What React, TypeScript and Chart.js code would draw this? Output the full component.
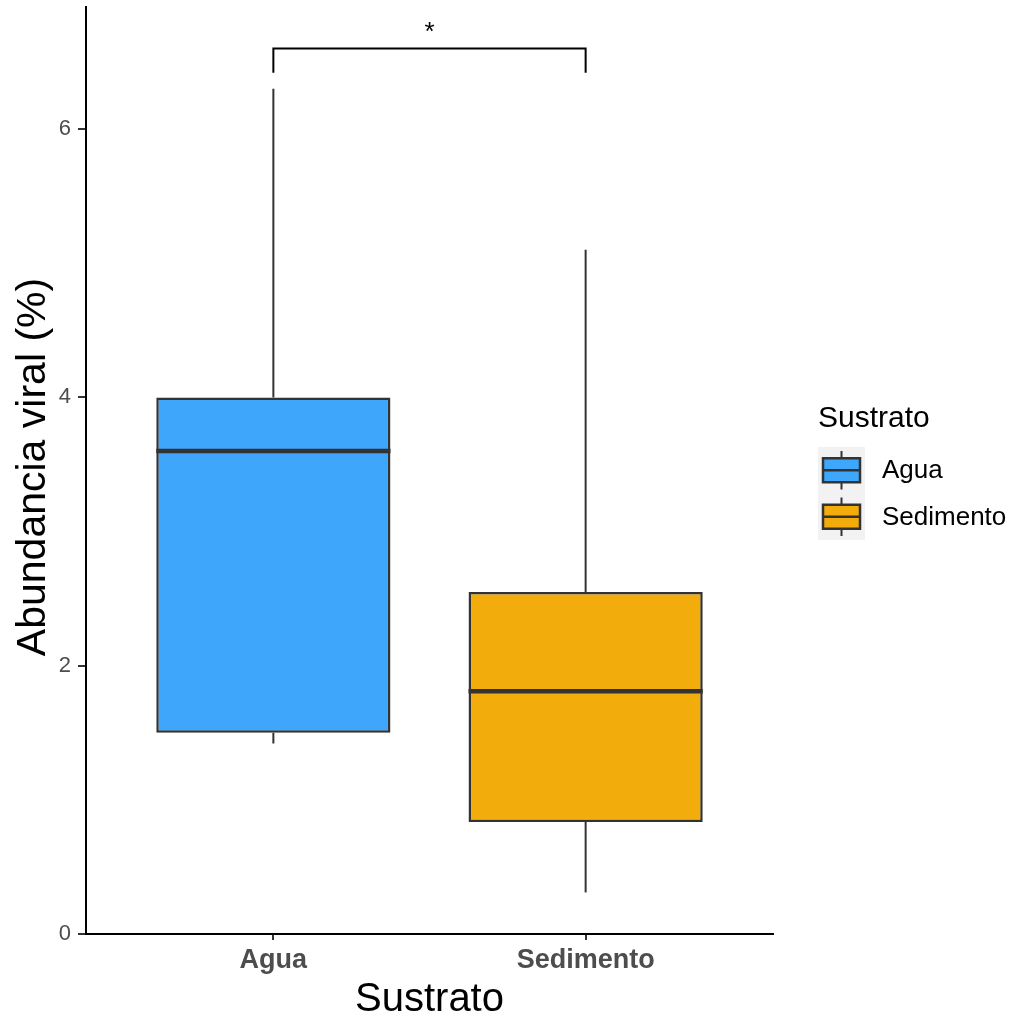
import React, { useEffect, useRef } from "react";
import { Chart, registerables } from "chart.js";

Chart.register(...registerables);

const categories = ["Agua", "Sedimento"];
const positions = [1, 2];
const whiskerLow = [1.42, 0.31];
const q1 = [1.5, 0.835];
const median = [3.6, 1.81];
const q3 = [4.0, 2.55];
const whiskerHigh = [6.3, 5.1];
const fillColors = ["#3EA6FB", "#F2AC0C"];
const yTicks = [0, 2, 4, 6];
const bracketY = 6.6;
const bracketTipY = 6.42;
const bracketLabel = "*";
const yTitle = "Abundancia viral (%)";
const xTitle = "Sustrato";
const legendTitle = "Sustrato";

const FONT = '"Liberation Sans", Arial, Helvetica, sans-serif';

const extras = {
  id: "boxExtras",
  afterDatasetsDraw(chart: any) {
    const { ctx, scales, chartArea } = chart;
    const x = scales.x;
    const y = scales.y;
    const meta = chart.getDatasetMeta(0);
    ctx.save();
    ctx.lineCap = "butt";
    const line = (x1: number, y1: number, x2: number, y2: number) => {
      ctx.beginPath();
      ctx.moveTo(x1, y1);
      ctx.lineTo(x2, y2);
      ctx.stroke();
    };
    meta.data.forEach((bar: any, i: number) => {
      const cx = x.getPixelForValue(positions[i]);
      const w = bar.width;
      ctx.strokeStyle = "#333333";
      ctx.lineWidth = 2;
      line(cx, y.getPixelForValue(q3[i]), cx, y.getPixelForValue(whiskerHigh[i]));
      line(cx, y.getPixelForValue(q1[i]), cx, y.getPixelForValue(whiskerLow[i]));
      ctx.lineWidth = 4.5;
      const ym = y.getPixelForValue(median[i]);
      line(cx - w / 2, ym, cx + w / 2, ym);
    });
    // significance bracket
    const bx1 = x.getPixelForValue(positions[0]);
    const bx2 = x.getPixelForValue(positions[1]);
    const by = y.getPixelForValue(bracketY);
    const bt = y.getPixelForValue(bracketTipY);
    ctx.strokeStyle = "#000000";
    ctx.lineWidth = 2;
    ctx.beginPath();
    ctx.moveTo(bx1, bt);
    ctx.lineTo(bx1, by);
    ctx.lineTo(bx2, by);
    ctx.lineTo(bx2, bt);
    ctx.stroke();
    ctx.fillStyle = "#000000";
    ctx.font = `26px ${FONT}`;
    ctx.textAlign = "center";
    ctx.textBaseline = "alphabetic";
    ctx.fillText(bracketLabel, (bx1 + bx2) / 2, by - 9);

    // axis titles
    ctx.font = `40px ${FONT}`;
    ctx.fillStyle = "#000000";
    ctx.textAlign = "center";
    ctx.textBaseline = "alphabetic";
    ctx.fillText(xTitle, (chartArea.left + chartArea.right) / 2, 1011);
    ctx.save();
    ctx.font = `41px ${FONT}`;
    ctx.translate(45, 467);
    ctx.rotate(-Math.PI / 2);
    ctx.fillText(yTitle, 0, 0);
    ctx.restore();

    // legend
    ctx.textAlign = "left";
    ctx.font = `30px ${FONT}`;
    ctx.fillText(legendTitle, 818, 427);
    const keyX = 818;
    const keyW = 47;
    const keyH = 46.5;
    const keyTop = 447;
    ctx.fillStyle = "#F2F2F2";
    ctx.fillRect(keyX, keyTop, keyW, keyH * categories.length);
    categories.forEach((c, i) => {
      const kt = keyTop + i * keyH;
      const kc = kt + keyH / 2;
      const mx = keyX + keyW / 2;
      ctx.strokeStyle = "#333333";
      ctx.lineWidth = 2;
      line(mx, kt + 4, mx, kt + keyH - 4);
      ctx.fillStyle = fillColors[i];
      ctx.fillRect(keyX + 5, kc - 12, keyW - 10, 24);
      ctx.lineWidth = 2.5;
      ctx.strokeRect(keyX + 5, kc - 12, keyW - 10, 24);
      line(keyX + 5, kc, keyX + keyW - 5, kc);
      ctx.fillStyle = "#000000";
      ctx.font = `26px ${FONT}`;
      ctx.textBaseline = "middle";
      ctx.fillText(c, 882, kc + 1);
      ctx.textBaseline = "alphabetic";
    });
    ctx.restore();
  },
};

export default function App() {
  const ref = useRef<HTMLCanvasElement | null>(null);
  useEffect(() => {
    if (!ref.current) return;
    const chart = new Chart(ref.current, {
      type: "bar",
      data: {
        datasets: [
          {
            label: "Sustrato",
            data: positions.map((p, i) => ({ x: p, y: [q1[i], q3[i]] })) as any,
            backgroundColor: fillColors,
            borderColor: "#333333",
            borderWidth: 2.5,
            borderSkipped: false,
            categoryPercentage: 0.75,
            barPercentage: 1,
          },
        ],
      },
      options: {
        animation: false,
        responsive: false,
        maintainAspectRatio: false,
        layout: { padding: { left: 0, top: 7, right: 242, bottom: 0 } },
        plugins: { legend: { display: false }, tooltip: { enabled: false } },
        scales: {
          x: {
            type: "linear",
            min: 0.4,
            max: 2.6,
            offset: false,
            afterBuildTicks: (s: any) => {
              s.ticks = positions.map((v) => ({ value: v }));
            },
            afterFit: (s: any) => {
              s.height = 82;
              s.paddingLeft = 0;
              s.paddingRight = 0;
            },
            ticks: {
              callback: (v: any) => categories[positions.indexOf(Number(v))] ?? "",
              color: "#4D4D4D",
              font: { family: FONT, size: 27, weight: "bold" },
              padding: 4,
              maxRotation: 0,
              autoSkip: false,
              includeBounds: false,
            },
            grid: {
              offset: false,
              drawOnChartArea: false,
              drawTicks: true,
              tickLength: 6,
              color: "#333333",
              lineWidth: 2,
            },
            border: { display: true, color: "#000000", width: 2 },
          },
          y: {
            type: "linear",
            min: 0,
            max: 6.91,
            afterBuildTicks: (s: any) => {
              s.ticks = yTicks.map((v) => ({ value: v }));
            },
            afterFit: (s: any) => {
              s.width = 86;
              s.paddingTop = 0;
              s.paddingBottom = 0;
            },
            ticks: {
              color: "#4D4D4D",
              font: { family: FONT, size: 22 },
              padding: 7,
              includeBounds: false,
            },
            grid: {
              drawOnChartArea: false,
              drawTicks: true,
              tickLength: 8,
              color: "#333333",
              lineWidth: 2,
            },
            border: { display: true, color: "#000000", width: 2 },
          },
        },
      },
      plugins: [extras],
    });
    return () => chart.destroy();
  }, []);
  return (
    <div style={{ position: "fixed", left: 0, top: 0, width: 1015, height: 1016, background: "#ffffff" }}>
      <canvas ref={ref} width={1015} height={1016} style={{ width: 1015, height: 1016 }} />
    </div>
  );
}
